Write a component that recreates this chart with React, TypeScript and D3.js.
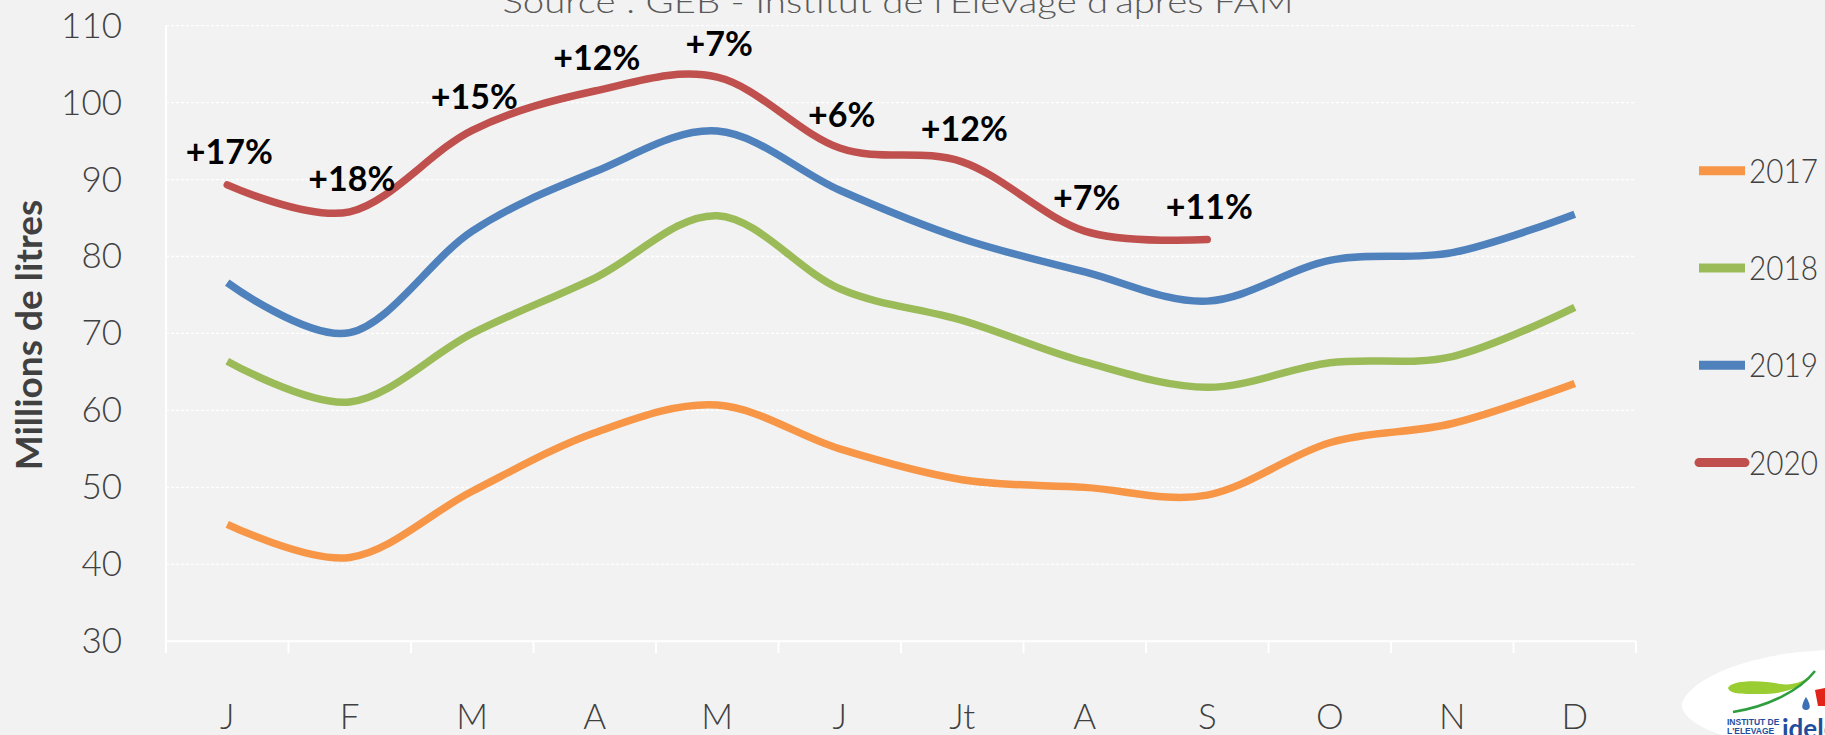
import React from "react";
import * as d3 from "d3";

const months = ["J", "F", "M", "A", "M", "J", "Jt", "A", "S", "O", "N", "D"];
const s2017 = [45.2, 40.9, 49.5, 57.1, 60.7, 55.0, 51.0, 50.0, 49.0, 55.8, 58.3, 63.5];
const s2018 = [66.4, 61.1, 70.0, 77.2, 85.3, 75.8, 71.7, 66.3, 63.0, 66.2, 67.0, 73.4];
const s2019 = [76.6, 70.1, 83.3, 91.0, 96.3, 88.6, 82.3, 78.0, 74.2, 79.5, 80.5, 85.5];
const s2020 = [89.3, 85.8, 96.4, 101.5, 103.3, 94.1, 92.3, 83.3, 82.2];
const labels2020 = ["+17%", "+18%", "+15%", "+12%", "+7%", "+6%", "+12%", "+7%", "+11%"];
const yTicks = [30, 40, 50, 60, 70, 80, 90, 100, 110];
const years = ["2017", "2018", "2019", "2020"];
const colors = ["#F79646", "#9BBB59", "#4F81BD", "#C0504D"];
const seriesList = [s2017, s2018, s2019, s2020];

const W = 1825;
const H = 735;
const FONT = "Lato, 'Open Sans', 'DejaVu Sans', sans-serif";

export default function App() {
  const x = d3.scaleBand<number>().domain(d3.range(12)).range([166, 1636]).padding(0);
  const y = d3.scaleLinear().domain([30, 110]).range([641.3, 25.6]);
  const cx = (i: number) => (x(i) as number) + x.bandwidth() / 2;
  const line = d3
    .line<number>()
    .x((_, i) => cx(i))
    .y((d) => y(d))
    .curve(d3.curveCardinal.tension(0));

  const bounds = d3.range(13).map((i) => 166 + i * x.bandwidth());

  return (
    <svg
      width={W}
      height={H}
      style={{ position: "absolute", left: 0, top: 0, display: "block" }}
      fontFamily={FONT}
    >
      <rect x={0} y={0} width={W} height={H} fill="#f2f2f2" />
      {/* title */}
      <text
        x={898}
        y={13}
        textAnchor="middle"
        fontSize={32}
        fontWeight={300}
        fill="#595959"
        textLength={791}
        lengthAdjust="spacingAndGlyphs"
      >
        Source : GEB - Institut de l'Elevage d'après FAM
      </text>
      {/* gridlines */}
      {yTicks.slice(1).map((t) => (
        <line
          key={t}
          x1={166}
          x2={1636}
          y1={y(t)}
          y2={y(t)}
          stroke="#ffffff"
          strokeWidth={1.3}
          strokeDasharray="3 2"
        />
      ))}
      {/* axes */}
      <line x1={166} x2={1636} y1={y(30)} y2={y(30)} stroke="#ffffff" strokeWidth={2} />
      <line x1={166} x2={166} y1={y(110)} y2={653} stroke="#ffffff" strokeWidth={2} />
      {bounds.slice(1).map((bx, i) => (
        <line key={i} x1={bx} x2={bx} y1={y(30)} y2={653} stroke="#ffffff" strokeWidth={2} />
      ))}
      {/* y tick labels */}
      {yTicks.map((t) => (
        <text
          key={t}
          x={122}
          y={y(t) + 12}
          textAnchor="end"
          fontSize={35}
          fontWeight={300}
          fill="#404040"
        >
          {t}
        </text>
      ))}
      {/* x labels */}
      {months.map((m, i) => (
        <text
          key={i}
          x={cx(i)}
          y={729}
          textAnchor="middle"
          fontSize={35}
          fontWeight={300}
          fill="#404040"
        >
          {m}
        </text>
      ))}
      {/* y title */}
      <text
        transform="translate(42,335) rotate(-90)"
        textAnchor="middle"
        fontSize={37}
        fontWeight={700}
        fill="#404040"
      >
        Millions de litres
      </text>
      {/* series */}
      {seriesList.map((s, k) => (
        <path
          key={k}
          d={line(s) || ""}
          fill="none"
          stroke={colors[k]}
          strokeWidth={7.5}
          strokeLinecap={k === 3 ? "round" : "butt"}
          strokeLinejoin="round"
        />
      ))}
      {/* 2020 labels */}
      {labels2020.map((l, i) => (
        <text
          key={i}
          x={cx(i) + 2}
          y={y(s2020[i]) - 21}
          textAnchor="middle"
          fontSize={34}
          fontWeight={700}
          fill="#000000"
        >
          {l}
        </text>
      ))}
      {/* legend */}
      {years.map((yr, k) => {
        const ly = 170.7 + k * 97.3;
        return (
          <g key={yr}>
            <line
              x1={1699}
              x2={1745}
              y1={ly}
              y2={ly}
              stroke={colors[k]}
              strokeWidth={9}
              strokeLinecap={k === 3 ? "round" : "butt"}
            />
            <text
              x={1749}
              y={ly + 12}
              fontSize={33}
              fontWeight={300}
              fill="#404040"
              textLength={69}
              lengthAdjust="spacingAndGlyphs"
            >
              {yr}
            </text>
          </g>
        );
      })}
      {/* logo */}
      <g>
        <path
          d="M1682,703 C1690,680 1740,658 1800,652 L1825,650 L1825,735 L1722,735 C1700,728 1680,716 1682,703 Z"
          fill="#ffffff"
        />
        <path
          d="M1728,688 C1732,680 1760,680 1780,684 C1795,686 1805,680 1810,676 C1800,690 1780,694 1760,694 C1740,694 1730,694 1728,688 Z"
          fill="#9ACD32"
        />
        <path
          d="M1733,712 C1770,706 1800,690 1815,671"
          fill="none"
          stroke="#2E9E3E"
          strokeWidth={2.5}
        />
        <path d="M1815,690 L1825,688 L1825,706 L1818,706 Z" fill="#E2231A" />
        <path d="M1806,697 C1801,705 1801,710 1806,710 C1811,710 1811,705 1806,697 Z" fill="#3B6FB6" />
        <text x={1727} y={725} fontSize={8.5} fontWeight={700} fill="#1F4E9C" fontFamily="'Liberation Sans Narrow', 'Liberation Sans', sans-serif">
          INSTITUT DE
        </text>
        <text x={1727} y={734} fontSize={8.5} fontWeight={700} fill="#1F4E9C" fontFamily="'Liberation Sans Narrow', 'Liberation Sans', sans-serif">
          L'ELEVAGE
        </text>
        <text x={1782} y={738} fontSize={26} fontWeight={700} fill="#1F4E9C">
          idele
        </text>
      </g>
    </svg>
  );
}
